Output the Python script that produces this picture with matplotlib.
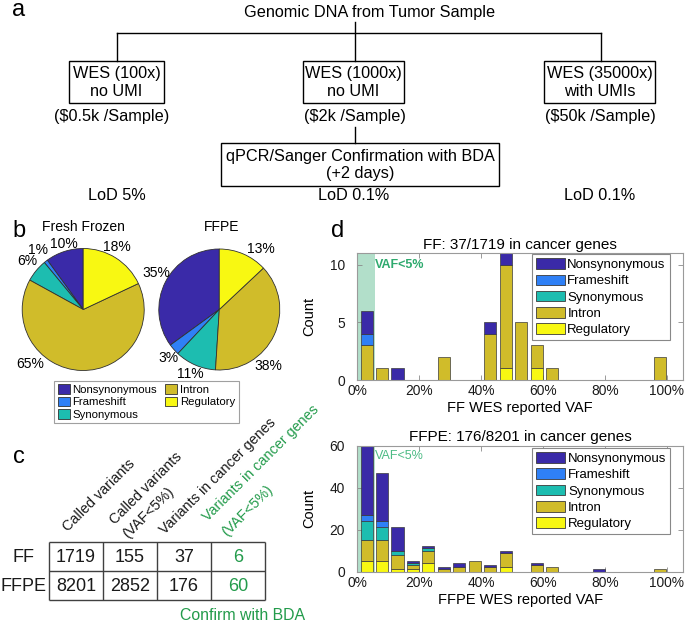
import numpy as np
import matplotlib
matplotlib.use("Agg")
import matplotlib.pyplot as plt
from matplotlib.patches import Rectangle, Patch

plt.rcParams['font.family'] = ['Liberation Sans', 'DejaVu Sans']

# ---------------- data ----------------
categories = ['Nonsynonymous', 'Frameshift', 'Synonymous', 'Intron', 'Regulatory']
cat_colors = ['#3A2AA8', '#2F80F6', '#1DBDB0', '#D0BC2A', '#F8F812']

pie_ff_pct = [10, 1, 6, 65, 18]
pie_ffpe_pct = [35, 3, 11, 38, 13]

table_rows = ['FF', 'FFPE']
table_values = [[1719, 155, 37, 6],
                [8201, 2852, 176, 60]]

# histogram: 20 VAF bins (5% wide)
ff_nonsyn = [2, 0, 1, 0, 0, 0, 0, 0, 1, 1, 0, 0, 0, 0, 0, 0, 0, 0, 0, 0]
ff_frame  = [1, 0, 0, 0, 0, 0, 0, 0, 0, 0, 0, 0, 0, 0, 0, 0, 0, 0, 0, 0]
ff_syn    = [0, 0, 0, 0, 0, 0, 0, 0, 0, 0, 0, 0, 0, 0, 0, 0, 0, 0, 0, 0]
ff_intron = [3, 1, 0, 0, 0, 2, 0, 0, 4, 9, 5, 2, 1, 0, 0, 0, 0, 0, 0, 2]
ff_reg    = [0, 0, 0, 0, 0, 0, 0, 0, 0, 1, 0, 1, 0, 0, 0, 0, 0, 0, 0, 0]

ffpe_nonsyn = [33, 23, 11, 1, 1, 1, 2, 0, 1, 1, 0, 1, 0, 0, 0, 1, 0, 0, 0, 0]
ffpe_frame  = [3, 3, 0, 0, 0, 0, 0, 0, 0, 0, 0, 0, 0, 0, 0, 0, 0, 0, 0, 0]
ffpe_syn    = [9, 6, 2, 1, 1, 0, 0, 0, 0, 0, 0, 0, 0, 0, 0, 0, 0, 0, 0, 0]
ffpe_intron = [10, 10, 7, 2, 6, 1, 2, 5, 2, 7, 0, 3, 2, 0, 0, 0, 0, 0, 0, 1]
ffpe_reg    = [5, 5, 1, 1, 4, 0, 0, 0, 0, 2, 0, 0, 0, 0, 0, 0, 0, 0, 0, 0]

vaf_ticks = [0, 20, 40, 60, 80, 100]
vaf_ticklabels = ['0%', '20%', '40%', '60%', '80%', '100%']

green = '#239B4B'
W, H = 685, 624

fig = plt.figure(figsize=(W / 100, H / 100), dpi=100)

def fa(x0, y0, x1, y1):
    """pixel box (top-left origin) -> figure fraction rect"""
    return [x0 / W, 1 - y1 / H, (x1 - x0) / W, (y1 - y0) / H]

# ---------------- background / flowchart ----------------
bg = fig.add_axes([0, 0, 1, 1])
bg.set_xlim(0, W)
bg.set_ylim(H, 0)
bg.axis('off')

fsf = 11.7
lw = 1.0
bg.text(370, 12, 'Genomic DNA from Tumor Sample', ha='center', va='center', fontsize=fsf)
for xs, ys in [([355, 355], [22, 61]), ([116.7, 600.7], [32.5, 32.5]),
               ([116.7, 116.7], [32.5, 61]), ([600.7, 600.7], [32.5, 61]),
               ([355, 355], [127, 143])]:
    bg.plot(xs, ys, color='black', lw=lw)

boxes = [(69, 61, 95, 42, 'WES (100x)\nno UMI'),
         (303, 61, 101, 42, 'WES (1000x)\nno UMI'),
         (544, 61, 111, 42, 'WES (35000x)\nwith UMIs'),
         (221, 143, 278, 43, 'qPCR/Sanger Confirmation with BDA\n(+2 days)')]
for x, y, w, h, t in boxes:
    bg.add_patch(Rectangle((x, y), w, h, fill=False, ec='black', lw=lw))
    bg.text(x + w / 2, y + h / 2 + 0.5, t, ha='center', va='center', fontsize=fsf)

for x, t in [(112, '($0.5k /Sample)'), (354.5, '($2k /Sample)'), (600, '($50k /Sample)')]:
    bg.text(x, 117, t, ha='center', va='center', fontsize=fsf)
for x, t in [(117, 'LoD 5%'), (354, 'LoD 0.1%'), (600, 'LoD 0.1%')]:
    bg.text(x, 196, t, ha='center', va='center', fontsize=fsf)

for x, y, t in [(19, 10, 'a'), (19, 231, 'b'), (19, 457, 'c'), (338, 231, 'd')]:
    bg.text(x, y, t, ha='center', va='center', fontsize=17)

# ---------------- pies ----------------
bg.text(83, 227, 'Fresh Frozen', ha='center', va='center', fontsize=10)
bg.text(221.7, 227, 'FFPE', ha='center', va='center', fontsize=10)

def draw_pie(cx, cy, r, vals, label_px):
    ax = fig.add_axes(fa(cx - r, cy - r, cx + r, cy + r))
    wedges, texts = ax.pie(vals, colors=cat_colors, startangle=90, counterclock=True,
                           labels=[f'{v}%' for v in vals],
                           wedgeprops=dict(edgecolor='#303030', linewidth=0.6),
                           textprops=dict(fontsize=10))
    for t, (px, py) in zip(texts, label_px):
        t.set_position(((px - cx) / r, -(py - cy) / r))
        t.set_ha('center')
        t.set_va('center')
    ax.set_xlim(-1, 1)
    ax.set_ylim(-1, 1)
    ax.set_aspect('equal')
    return wedges

draw_pie(83.2, 309.5, 61, pie_ff_pct,
         [(64, 244.3), (38.3, 249.5), (27, 261), (30, 364), (116.7, 247.3)])
draw_pie(219.3, 309.5, 60.5, pie_ffpe_pct,
         [(156.7, 272.7), (168.3, 357.7), (190, 374), (268.3, 365.7), (260.7, 249)])

pie_handles = [Patch(facecolor=c, edgecolor='#303030', linewidth=0.6) for c in cat_colors]
leg = fig.legend(pie_handles, categories, ncol=2, loc='upper left',
                 bbox_to_anchor=(54.3 / W, 1 - 381 / H), fontsize=8.2, frameon=True,
                 fancybox=False, edgecolor='#888888', handlelength=1.05, handleheight=0.9,
                 handletextpad=0.25, columnspacing=0.7, labelspacing=0.15,
                 borderpad=0.3, borderaxespad=0)
leg.get_frame().set_linewidth(0.8)

# ---------------- table ----------------
axt = fig.add_axes(fa(49, 542.3, 265, 600))
axt.set_xlim(0, 4)
axt.set_ylim(2, 0)
axt.axis('off')
axt.vlines(range(5), 0, 2, color='#404040', lw=1.0, clip_on=False)
axt.hlines(range(3), 0, 4, color='#404040', lw=1.0, clip_on=False)
for i, row in enumerate(table_values):
    for j, v in enumerate(row):
        axt.text(j + 0.5, i + 0.52, str(v), ha='center', va='center', fontsize=13,
                 color=green if j == 3 else '#1a1a1a')
for i, name in enumerate(table_rows):
    axt.text(-0.47, i + 0.52, name, ha='center', va='center', fontsize=13, color='#1a1a1a')

hdr = [(68.3, 531.7, 'Called variants', '#1a1a1a'),
       (115, 525, 'Called variants', '#1a1a1a'),
       (128.3, 539.3, '(VAF<5%)', '#1a1a1a'),
       (165, 535, 'Variants in cancer genes', '#1a1a1a'),
       (208.3, 521.7, 'Variants in cancer genes', green),
       (226.7, 536.7, '(VAF<5%)', green)]
for px, py, t, c in hdr:
    axt.text((px - 49) / 54, (py - 542.3) / 28.85, t, rotation=45, rotation_mode='anchor',
             ha='left', va='baseline', fontsize=10.4, color=c, clip_on=False)
bg.text(242.5, 616, 'Confirm with BDA', ha='center', va='center', fontsize=11.4, color=green)

# ---------------- histograms ----------------
centers = np.arange(3, 100, 5)
stack = ['Regulatory', 'Intron', 'Synonymous', 'Frameshift', 'Nonsynonymous']

def draw_hist(rect, series, ymax, yticks, title, xlabel, vaf_y, bold, leg_anchor):
    ax = fig.add_axes(rect)
    ax.axvspan(0, 5.7, color='#B2DFCA', zorder=0, lw=0)
    bottom = np.zeros(len(centers))
    handles = {}
    for name in stack:
        vals = np.array(series[name], dtype=float)
        m = vals > 0
        col = cat_colors[categories.index(name)]
        ax.bar(centers[m], vals[m], width=3.9, bottom=bottom[m], color=col,
               edgecolor='#3a3a3a', linewidth=0.5, zorder=2)
        handles[name] = Patch(facecolor=col, edgecolor='#3a3a3a', linewidth=0.6)
        bottom += vals
    ax.set_xlim(0, 105.4)
    ax.set_ylim(0, ymax)
    ax.set_xticks(vaf_ticks)
    ax.set_xticklabels(vaf_ticklabels)
    ax.set_yticks(yticks)
    ax.tick_params(direction='in', top=True, right=True, length=3.5, width=0.6,
                   color='#8a8a8a', labelsize=9.9, labelcolor='#1a1a1a')
    ax.tick_params(axis='x', pad=3)
    ax.tick_params(axis='y', pad=9)
    for s in ax.spines.values():
        s.set_color('#9a9a9a')
        s.set_linewidth(0.8)
    ax.set_title(title, fontsize=11, pad=3)
    ax.set_xlabel(xlabel, fontsize=10.5, labelpad=2)
    ax.set_ylabel('Count', fontsize=10.5)
    ax.yaxis.set_label_coords(-0.125, 0.5)
    ax.text(5.7, vaf_y, 'VAF<5%', ha='left', va='center', fontsize=9,
            color='#2EAA6E' if bold else '#4DBB85', fontweight='bold' if bold else 'normal',
            zorder=3)
    lg = ax.legend([handles[n] for n in categories], categories, loc='upper right',
                   bbox_to_anchor=leg_anchor, fontsize=9.5, frameon=True, fancybox=False,
                   edgecolor='#888888', handlelength=2.2, handleheight=0.85,
                   handletextpad=0.2, labelspacing=0.26, borderpad=0.3, borderaxespad=0)
    lg.get_frame().set_linewidth(0.8)
    lg.get_frame().set_alpha(1)
    return ax

ff_series = {'Nonsynonymous': ff_nonsyn, 'Frameshift': ff_frame, 'Synonymous': ff_syn,
             'Intron': ff_intron, 'Regulatory': ff_reg}
ffpe_series = {'Nonsynonymous': ffpe_nonsyn, 'Frameshift': ffpe_frame, 'Synonymous': ffpe_syn,
               'Intron': ffpe_intron, 'Regulatory': ffpe_reg}

draw_hist(fa(357.3, 253.3, 683.3, 380), ff_series, 11, [0, 5, 10],
          'FF: 37/1719 in cancer genes', 'FF WES reported VAF', 10.0, True, (0.958, 0.992))
draw_hist(fa(357.3, 445.5, 683.3, 571.6), ffpe_series, 60, [0, 20, 40, 60],
          'FFPE: 176/8201 in cancer genes', 'FFPE WES reported VAF', 55, False, (0.960, 0.978))

fig.savefig('out.png', dpi=100)
